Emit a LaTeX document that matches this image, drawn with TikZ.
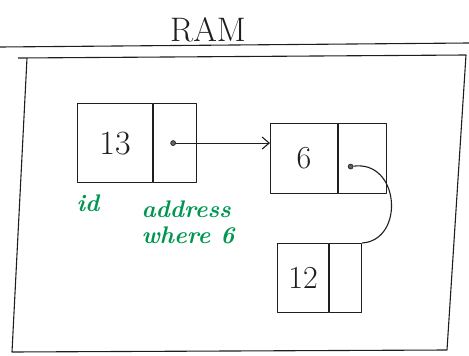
\documentclass[tikz,border=0pt]{standalone}
\usetikzlibrary{arrows.meta}
\definecolor{pen}{RGB}{30,30,30}
\definecolor{greenink}{RGB}{0,150,80}
\tikzset{
  ink/.style={draw=pen, line width=1.1pt, line join=round},
  cell/.style={ink, rectangle, inner sep=0pt, anchor=north west},
  dotmark/.style={circle, fill=pen!70, draw=pen, line width=0.6pt, inner sep=0pt, minimum size=5pt},
  ptr/.style={ink, -{Straight Barb[length=7pt,width=12pt]}},
  link/.style={ink},
  numtext/.style={text=pen, font=\fontsize{34}{36}\selectfont},
  note/.style={text=greenink, font=\fontsize{24}{26}\selectfont\itshape\bfseries, align=left}
}
\begin{document}
\begin{tikzpicture}[x=1pt,y=-1pt]
\useasboundingbox (0,0) rectangle (469,356);
% title
\node[text=pen, font=\fontsize{34}{36}\selectfont] (ram) at (208,30) {RAM};
\draw[ink] (0,47) -- (469,43);
% outer memory box
\draw[ink] (18,58) -- (466,55) -- (447,350) -- (12,352) -- (27,58);
% node 13
\node[cell, minimum width=75pt, minimum height=79pt, numtext] (v13) at (77,103) {13};
\node[cell, minimum width=43pt, minimum height=79pt] (p13) at (v13.north east) {};
\node[dotmark] (d13) at ([xshift=-2pt]p13.center) {};
% node 6
\node[cell, minimum width=67pt, minimum height=70pt, numtext, font=\fontsize{32}{34}\selectfont] (v6) at (270,123) {6};
\node[cell, minimum width=48pt, minimum height=70pt] (p6) at (v6.north east) {};
\node[dotmark] (d6) at ([xshift=-12pt,yshift=-8pt]p6.center) {};
% node 12
\node[cell, minimum width=51pt, minimum height=69pt, numtext, font=\fontsize{32}{34}\selectfont] (v12) at (277,243) {12};
\node[cell, minimum width=32pt, minimum height=69pt] (p12) at (v12.north east) {};
% connectors
\draw[ptr] (d13) -- (d13 -| v6.west);
\draw[link] (d6) .. controls (400,160) and (405,240) .. (p12.north east);
% annotations
\node[note] (lid) at (88,203) {id};
\node[note] (laddr) at (188,222) {address\\where 6};
\end{tikzpicture}
\end{document}
